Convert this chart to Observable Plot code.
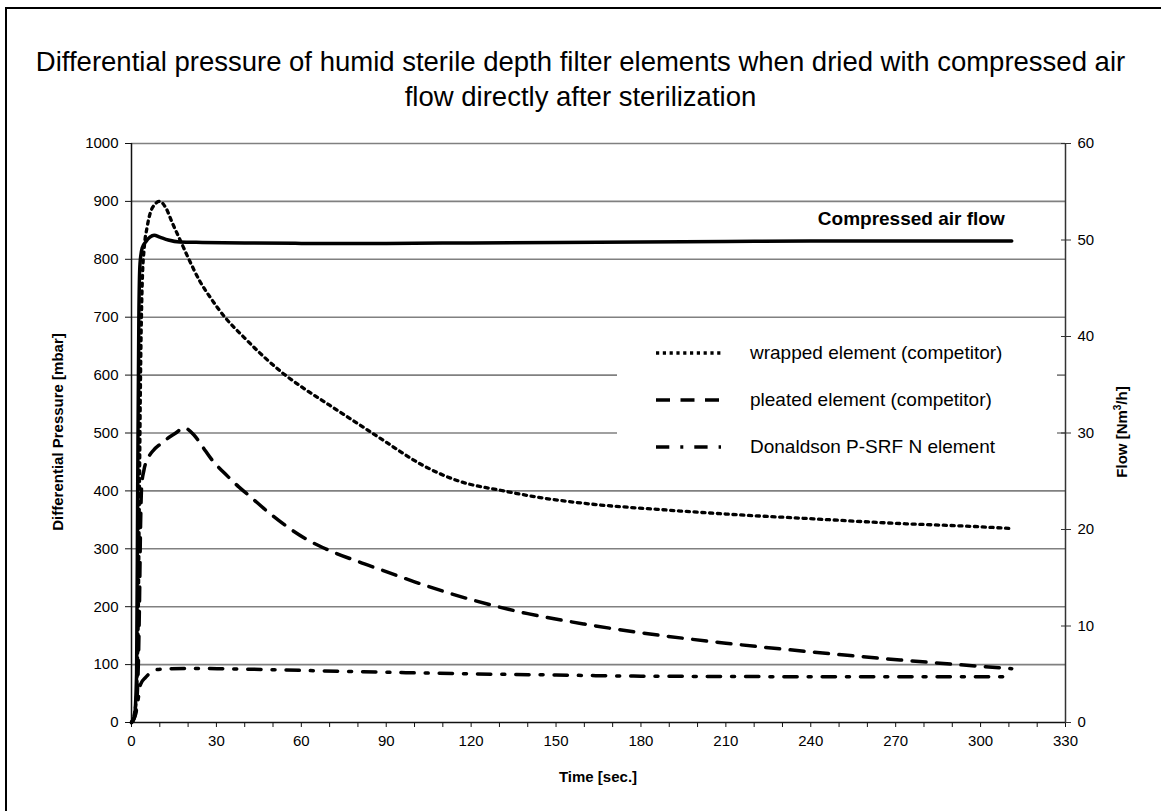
<!DOCTYPE html>
<html>
<head>
<meta charset="utf-8">
<script src="https://cdn.jsdelivr.net/npm/d3@7"></script>
<script src="https://cdn.jsdelivr.net/npm/@observablehq/plot@0.6"></script>
<style>
  body { margin: 0; background: #fff; font-family: "Liberation Sans", Arial, sans-serif; }
  #wrap { position: relative; width: 1161px; height: 811px; overflow: hidden; background: #fff; }
  #title { position: absolute; left: 0; top: 44px; width: 1161px; text-align: center; font-size: 27.5px; line-height: 35px; white-space: nowrap; color: #000; }
  #chart { position: absolute; left: 0; top: 110px; }
  .axt { position: absolute; font-weight: bold; font-size: 15px; white-space: nowrap; color: #000; transform: translate(-50%, -50%); }
  .rot { transform: translate(-50%, -50%) rotate(-90deg); }
  #legend { position: absolute; left: 617px; top: 322px; width: 440px; height: 156px; background: #fff; }
  .lg { position: absolute; left: 0; height: 30px; width: 440px; }
  .lg svg { position: absolute; left: 36px; top: 0; }
  .lg span { position: absolute; left: 133px; top: 0; line-height: 30px; font-size: 19px; white-space: nowrap; color: #000; }
  #frame { position: absolute; left: 5px; top: 7px; width: 1200px; height: 900px; border-left: 2.5px solid #000; border-top: 2.5px solid #000; }
</style>
</head>
<body>
<div id="wrap">
  <div id="title">Differential pressure of humid sterile depth filter elements when dried with compressed air<br>flow directly after sterilization</div>
  <div id="chart"></div>
  <div class="axt rot" style="left:57px;top:432px;">Differential Pressure [mbar]</div>
  <div class="axt rot" style="left:1121px;top:432px;">Flow [Nm<sup style="font-size:10px">3</sup>/h]</div>
  <div class="axt" style="left:598px;top:776px;">Time [sec.]</div>
  <div id="legend"></div>
  <div id="frame"></div>
</div>
<script>
// ---- data ----
const flowTime   = [0, 1, 1.8, 2.2, 2.6, 3, 3.8, 5, 6.5, 8, 10, 13, 17, 25, 40, 60, 90, 120, 150, 180, 210, 240, 270, 300, 311];
const flowValues = [0, 0.5, 5, 25, 42, 47.5, 49.2, 49.8, 50.3, 50.5, 50.3, 50, 49.8, 49.75, 49.7, 49.65, 49.65, 49.7, 49.75, 49.8, 49.85, 49.9, 49.9, 49.9, 49.9];

const wrappedTime   = [0, 1.5, 2.3, 2.8, 3.2, 3.8, 4.5, 5.5, 7.5, 10, 12, 14.5, 17.3, 20, 24.4, 28, 33, 40, 46.7, 53.8, 60, 70, 84.4, 90, 103, 115, 131.5, 145, 160, 189, 210, 240, 270, 300, 311];
const wrappedValues = [0, 30, 150, 400, 600, 760, 820, 855, 890, 900, 890, 862, 832, 803, 760, 733, 700, 664, 632, 602, 580, 548, 502, 484, 444, 418, 400, 388, 378.5, 367, 360, 352, 344, 338, 335];

const pleatedTime   = [0, 1.5, 2.3, 2.8, 3.2, 3.6, 4.4, 6, 7.9, 10, 12, 15.5, 18.5, 22, 25, 28.5, 33, 37.9, 42, 47.4, 52, 56.8, 62, 68.6, 80, 88.6, 100, 120.9, 140, 160, 180, 210, 240, 271.6, 300, 311];
const pleatedValues = [0, 20, 80, 200, 340, 410, 436, 458, 471, 480, 488, 499.5, 509, 497, 477, 453, 430, 407, 390, 367, 349, 332, 316, 300, 278, 263, 243, 211, 188, 170, 155, 137, 122, 108, 97, 93];

const donaldsonTime   = [0, 1.5, 2.2, 3.2, 5, 6.7, 8, 10.2, 20, 30.3, 59.7, 93.3, 120, 150, 180, 210, 240, 271.6, 300, 308.7];
const donaldsonValues = [0, 15, 35, 66, 78, 86, 90, 92, 93.5, 93, 90, 86.4, 84, 82, 80, 79.5, 79, 79, 79, 79];

const xTicks = d3.range(0, 331, 10);
const pressureTicks = d3.range(0, 1001, 100);
const flowTicks = [0, 10, 20, 30, 40, 50, 60];
const flowMax = 60, pressureMax = 1000;

const legendLabels = ["wrapped element (competitor)", "pleated element (competitor)", "Donaldson P-SRF N element"];
const annotationLabel = "Compressed air flow";

// ---- tables ----
const toPressure = f => f * pressureMax / flowMax;
const flowData = flowTime.map((t, i) => ({t, v: toPressure(flowValues[i])}));
const wrappedData = wrappedTime.map((t, i) => ({t, v: wrappedValues[i]}));
const pleatedData = pleatedTime.map((t, i) => ({t, v: pleatedValues[i]}));
const donaldsonData = donaldsonTime.map((t, i) => ({t, v: donaldsonValues[i]}));

const dashes = {
  wrapped: "3.2,4.6",
  pleated: "14,10.5",
  donaldson: "13.3,11,3,11"
};
const SW = 3.5;

const chart = Plot.plot({
  width: 1161,
  height: 701,
  marginTop: 33,
  marginBottom: 89,
  marginLeft: 131,
  marginRight: 96,
  style: {fontFamily: "Liberation Sans, Arial, sans-serif", fontSize: "15px", color: "#000", background: "transparent", overflow: "visible"},
  x: {domain: [0, 330]},
  y: {domain: [0, pressureMax]},
  marks: [
    Plot.gridY(pressureTicks.filter(d => d > 0), {stroke: "#808080", strokeOpacity: 1, strokeWidth: 1.6}),
    Plot.axisX({ticks: xTicks, tickFormat: d => d % 30 === 0 ? String(d) : "", tickSize: 5, tickPadding: 8, label: null, stroke: "#111"}),
    Plot.axisY({ticks: pressureTicks, tickFormat: d => String(d), tickSize: 6, tickPadding: 7, label: null, stroke: "#111"}),
    Plot.axisY({anchor: "right", ticks: flowTicks.map(toPressure), tickFormat: d => String(Math.round(d * flowMax / pressureMax)), tickSize: 5, tickPadding: 7, label: null, stroke: "#333"}),
    Plot.axisY({anchor: "right", ticks: flowTicks.map(toPressure), tickFormat: () => "", tickSize: -5, label: null, stroke: "#333"}),
    Plot.ruleX([0], {stroke: "#111", strokeWidth: 1.5}),
    Plot.ruleX([330], {stroke: "#333", strokeWidth: 1.5}),
    Plot.ruleY([0], {stroke: "#111", strokeWidth: 1.5}),
    Plot.line(donaldsonData, {x: "t", y: "v", stroke: "#000", strokeWidth: SW, strokeDasharray: dashes.donaldson, curve: "monotone-x"}),
    Plot.line(pleatedData, {x: "t", y: "v", stroke: "#000", strokeWidth: SW, strokeDasharray: dashes.pleated, curve: "monotone-x"}),
    Plot.line(wrappedData, {x: "t", y: "v", stroke: "#000", strokeWidth: 3.3, strokeDasharray: dashes.wrapped, curve: "monotone-x"}),
    Plot.line(flowData, {x: "t", y: "v", stroke: "#000", strokeWidth: SW, curve: "monotone-x"}),
    Plot.text(flowData.slice(-1), {x: "t", y: "v", text: () => annotationLabel, textAnchor: "end", dx: -7, dy: -22, fontWeight: "bold", fontSize: 19, fill: "#000"})
  ]
});
document.getElementById("chart").appendChild(chart);

// ---- legend ----
const legend = d3.select("#legend");
const legendDash = ["3.2,3.6", dashes.pleated, dashes.donaldson];
const legendTops = [16, 63, 110];
legendLabels.forEach((lab, i) => {
  const row = legend.append("div").attr("class", "lg").style("top", legendTops[i] + "px");
  const s = row.append("svg").attr("width", 70).attr("height", 30);
  s.append("line").attr("x1", 3).attr("x2", 68).attr("y1", 15).attr("y2", 15)
    .attr("stroke", "#000").attr("stroke-width", SW).attr("stroke-dasharray", legendDash[i]);
  row.append("span").text(lab);
});
</script>
</body>
</html>
